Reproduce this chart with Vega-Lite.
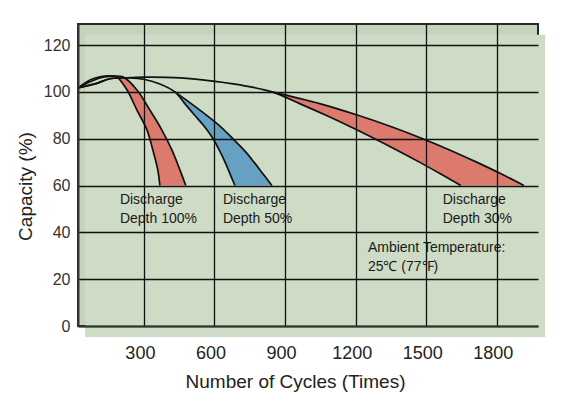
{
  "$schema": "https://vega.github.io/schema/vega-lite/v6.json",
  "width": 460,
  "height": 302,
  "autosize": {"type": "none"},
  "padding": {"left": 78, "top": 24, "right": 42, "bottom": 88},
  "background": "white",
  "config": {
    "font": "Liberation Sans",
    "view": {"fill": "#c6d3bc", "stroke": "#2a2a2a", "strokeWidth": 2}
  },
  "datasets": {
    "frame": [{"x": 50, "x2": 2005, "y": -4.7, "y2": 124.4}],
    "bands": [
      {"band": "100", "y": 106.4, "x": 185, "x2": 211},
      {"band": "100", "y": 100.9, "x": 228, "x2": 270},
      {"band": "100", "y": 92.3, "x": 270, "x2": 325},
      {"band": "100", "y": 83.8, "x": 313, "x2": 376},
      {"band": "100", "y": 75.2, "x": 338, "x2": 419},
      {"band": "100", "y": 66.7, "x": 359, "x2": 453},
      {"band": "100", "y": 60, "x": 368, "x2": 478},
      {"band": "50", "y": 100, "x": 432, "x2": 432},
      {"band": "50", "y": 95, "x": 474, "x2": 501},
      {"band": "50", "y": 90, "x": 516, "x2": 567},
      {"band": "50", "y": 85, "x": 559, "x2": 628},
      {"band": "50", "y": 80, "x": 594, "x2": 678},
      {"band": "50", "y": 75, "x": 621, "x2": 727},
      {"band": "50", "y": 70, "x": 645, "x2": 768},
      {"band": "50", "y": 65, "x": 666, "x2": 806},
      {"band": "50", "y": 60, "x": 687, "x2": 844},
      {"band": "30", "y": 100, "x": 844, "x2": 844},
      {"band": "30", "y": 95, "x": 962, "x2": 1047},
      {"band": "30", "y": 90, "x": 1074, "x2": 1210},
      {"band": "30", "y": 85, "x": 1180, "x2": 1355},
      {"band": "30", "y": 80, "x": 1281, "x2": 1485},
      {"band": "30", "y": 75, "x": 1378, "x2": 1604},
      {"band": "30", "y": 70, "x": 1471, "x2": 1714},
      {"band": "30", "y": 65, "x": 1560, "x2": 1818},
      {"band": "30", "y": 60, "x": 1647, "x2": 1915}
    ],
    "curves": [
      {"c": "s1", "i": 1, "x": 20, "y": 101.7},
      {"c": "s1", "i": 2, "x": 71, "y": 105.1},
      {"c": "s1", "i": 3, "x": 113, "y": 106.4},
      {"c": "s1", "i": 4, "x": 156, "y": 106.8},
      {"c": "s1", "i": 5, "x": 185, "y": 106.4},
      {"c": "s1", "i": 6, "x": 228, "y": 100.9},
      {"c": "s1", "i": 7, "x": 270, "y": 92.3},
      {"c": "s1", "i": 8, "x": 313, "y": 83.8},
      {"c": "s1", "i": 9, "x": 338, "y": 75.2},
      {"c": "s1", "i": 10, "x": 359, "y": 66.7},
      {"c": "s1", "i": 11, "x": 368, "y": 60},
      {"c": "s2", "i": 1, "x": 20, "y": 101.7},
      {"c": "s2", "i": 2, "x": 71, "y": 104.3},
      {"c": "s2", "i": 3, "x": 113, "y": 106.0},
      {"c": "s2", "i": 4, "x": 156, "y": 106.6},
      {"c": "s2", "i": 5, "x": 211, "y": 106.4},
      {"c": "s2", "i": 6, "x": 270, "y": 100.9},
      {"c": "s2", "i": 7, "x": 325, "y": 92.3},
      {"c": "s2", "i": 8, "x": 376, "y": 83.8},
      {"c": "s2", "i": 9, "x": 419, "y": 75.2},
      {"c": "s2", "i": 10, "x": 453, "y": 66.7},
      {"c": "s2", "i": 11, "x": 478, "y": 60},
      {"c": "s3", "i": 1, "x": 20, "y": 101.7},
      {"c": "s3", "i": 2, "x": 92, "y": 103.4},
      {"c": "s3", "i": 3, "x": 156, "y": 105.6},
      {"c": "s3", "i": 4, "x": 241, "y": 106.0},
      {"c": "s3", "i": 5, "x": 304, "y": 105.3},
      {"c": "s3", "i": 6, "x": 368, "y": 103.4},
      {"c": "s3", "i": 7, "x": 432, "y": 100},
      {"c": "s3", "i": 8, "x": 474, "y": 95},
      {"c": "s3", "i": 9, "x": 516, "y": 90},
      {"c": "s3", "i": 10, "x": 559, "y": 85},
      {"c": "s3", "i": 11, "x": 594, "y": 80},
      {"c": "s3", "i": 12, "x": 621, "y": 75},
      {"c": "s3", "i": 13, "x": 645, "y": 70},
      {"c": "s3", "i": 14, "x": 666, "y": 65},
      {"c": "s3", "i": 15, "x": 687, "y": 60},
      {"c": "s4", "i": 1, "x": 432, "y": 100},
      {"c": "s4", "i": 2, "x": 501, "y": 95},
      {"c": "s4", "i": 3, "x": 567, "y": 90},
      {"c": "s4", "i": 4, "x": 628, "y": 85},
      {"c": "s4", "i": 5, "x": 678, "y": 80},
      {"c": "s4", "i": 6, "x": 727, "y": 75},
      {"c": "s4", "i": 7, "x": 768, "y": 70},
      {"c": "s4", "i": 8, "x": 806, "y": 65},
      {"c": "s4", "i": 9, "x": 844, "y": 60},
      {"c": "s5", "i": 1, "x": 20, "y": 101.7},
      {"c": "s5", "i": 2, "x": 92, "y": 103.4},
      {"c": "s5", "i": 3, "x": 156, "y": 105.6},
      {"c": "s5", "i": 4, "x": 219, "y": 106.0},
      {"c": "s5", "i": 5, "x": 304, "y": 106.3},
      {"c": "s5", "i": 6, "x": 453, "y": 106.0},
      {"c": "s5", "i": 7, "x": 602, "y": 104.5},
      {"c": "s5", "i": 8, "x": 729, "y": 102.6},
      {"c": "s5", "i": 9, "x": 844, "y": 100},
      {"c": "s5", "i": 10, "x": 962, "y": 95},
      {"c": "s5", "i": 11, "x": 1074, "y": 90},
      {"c": "s5", "i": 12, "x": 1180, "y": 85},
      {"c": "s5", "i": 13, "x": 1281, "y": 80},
      {"c": "s5", "i": 14, "x": 1378, "y": 75},
      {"c": "s5", "i": 15, "x": 1471, "y": 70},
      {"c": "s5", "i": 16, "x": 1560, "y": 65},
      {"c": "s5", "i": 17, "x": 1647, "y": 60},
      {"c": "s6", "i": 1, "x": 844, "y": 100},
      {"c": "s6", "i": 2, "x": 1047, "y": 95},
      {"c": "s6", "i": 3, "x": 1210, "y": 90},
      {"c": "s6", "i": 4, "x": 1355, "y": 85},
      {"c": "s6", "i": 5, "x": 1485, "y": 80},
      {"c": "s6", "i": 6, "x": 1604, "y": 75},
      {"c": "s6", "i": 7, "x": 1714, "y": 70},
      {"c": "s6", "i": 8, "x": 1818, "y": 65},
      {"c": "s6", "i": 9, "x": 1915, "y": 60}
    ],
    "labels": [
      {"t": "Discharge", "x": 198, "y": 53.8},
      {"t": "Depth 100%", "x": 198, "y": 45.7},
      {"t": "Discharge", "x": 636, "y": 53.8},
      {"t": "Depth 50%", "x": 636, "y": 45.7},
      {"t": "Discharge", "x": 1570, "y": 53.8},
      {"t": "Depth 30%", "x": 1570, "y": 45.7},
      {"t": "Ambient Temperature:", "x": 1252, "y": 33.3},
      {"t": "25℃  (77℉)", "x": 1252, "y": 25.2}
    ]
  },
  "encoding": {
    "x": {
      "field": "x", "type": "quantitative",
      "scale": {"domain": [20, 1975], "nice": false, "zero": false},
      "axis": {
        "values": [300, 600, 900, 1200, 1500, 1800], "format": "d",
        "grid": true, "gridColor": "#111", "gridWidth": 1.3,
        "ticks": false, "tickSize": 0, "labelPadding": 18, "labelOffset": -4,
        "labelFontSize": 18, "labelColor": "#222", "labelFlush": false,
        "domainColor": "#333", "domainWidth": 2,
        "title": "Number of Cycles (Times)", "titleFontSize": 19,
        "titleFontWeight": "normal", "titleColor": "#222", "titlePadding": 10,
        "titleX": 217,
        "zindex": 1
      }
    },
    "y": {
      "field": "y", "type": "quantitative",
      "scale": {"domain": [0, 129], "nice": false},
      "axis": {
        "values": [0, 20, 40, 60, 80, 100, 120],
        "grid": true, "gridColor": "#111", "gridWidth": 1.3,
        "ticks": false, "tickSize": 0, "labelPadding": 8,
        "labelFontSize": 16, "labelColor": "#333", "labelFlush": false,
        "domainColor": "#333", "domainWidth": 2,
        "title": "Capacity (%)", "titleFontSize": 19,
        "titleFontWeight": "normal", "titleColor": "#222", "titlePadding": 8,
        "titleY": 162,
        "zindex": 1
      }
    }
  },
  "layer": [
    {
      "data": {"name": "frame"},
      "mark": {"type": "rect", "color": "#cedbc5"},
      "encoding": {"x2": {"field": "x2"}, "y2": {"field": "y2"}}
    },
    {
      "data": {"name": "bands"},
      "mark": {"type": "area", "orient": "horizontal", "interpolate": "catmull-rom"},
      "encoding": {
        "x": {"field": "x", "type": "quantitative", "stack": null},
        "x2": {"field": "x2"},
        "color": {
          "field": "band", "type": "nominal", "legend": null,
          "scale": {"domain": ["100", "50", "30"], "range": ["#dc7a6e", "#66a1c3", "#dc7a6e"]}
        }
      }
    },
    {
      "data": {"name": "curves"},
      "mark": {"type": "line", "color": "#111", "strokeWidth": 1.7, "interpolate": "catmull-rom", "strokeJoin": "round"},
      "encoding": {
        "detail": {"field": "c", "type": "nominal"},
        "order": {"field": "i", "type": "quantitative"}
      }
    },
    {
      "data": {"name": "labels"},
      "mark": {"type": "text", "align": "left", "baseline": "middle", "fontSize": 14, "color": "#1a1a1a"},
      "encoding": {"text": {"field": "t"}}
    }
  ]
}
